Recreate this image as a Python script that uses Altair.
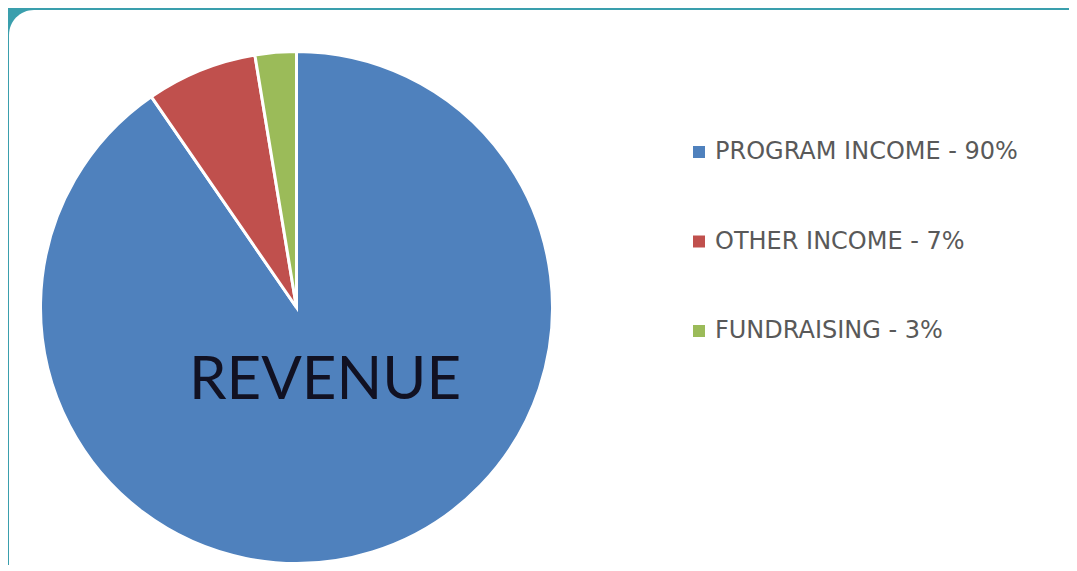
import altair as alt
import pandas as pd

categories = ["PROGRAM INCOME - 90%", "OTHER INCOME - 7%", "FUNDRAISING - 3%"]
values = [90.4, 7.0, 2.6]
colors = ["#4F81BD", "#C0504D", "#9BBB59"]
center_label = ["REVENUE"]

df = pd.DataFrame({"category": categories, "value": values, "idx": list(range(len(categories)))})
lab = pd.DataFrame({"text": center_label})

pie = alt.Chart(df).mark_arc(outerRadius=256, stroke="white", strokeWidth=3).encode(
    theta=alt.Theta("value:Q", stack=True),
    order=alt.Order("idx:Q"),
    color=alt.Color(
        "category:N",
        sort=categories,
        scale=alt.Scale(domain=categories, range=colors),
        legend=alt.Legend(
            title=None,
            orient="none",
            legendX=678,
            legendY=130,
            symbolType="square",
            symbolSize=144,
            symbolStrokeWidth=0,
            labelFontSize=24,
            labelFont="DejaVu Sans",
            labelColor="#595959",
            labelOffset=4,
            rowPadding=65.5,
            padding=0,
            labelLimit=500,
        ),
    ),
    x=alt.value(287.5),
    y=alt.value(297.5),
)

text = alt.Chart(lab).mark_text(
    font="Lato", fontSize=60, color="#111122", align="center", baseline="middle"
).encode(
    text="text:N",
    x=alt.value(316),
    y=alt.value(371),
)

chart = alt.layer(pie, text).properties(
    width=1100,
    height=620,
    padding={"left": 1, "top": 2, "right": -40, "bottom": -65},
    autosize=alt.AutoSizeParams(type="none"),
    background="#3A9FAD",
).configure_view(fill="white", stroke=None, cornerRadius=25)

chart.save("out.html", embed_options={"renderer": "svg", "actions": False})
